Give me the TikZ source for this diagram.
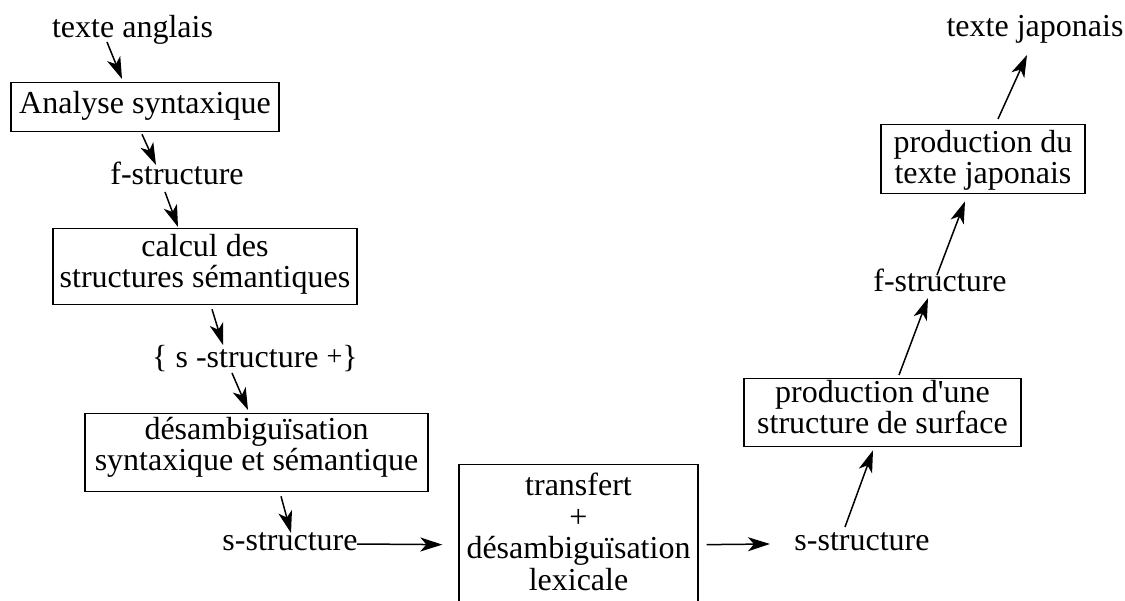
\documentclass[tikz,border=0pt]{standalone}
\usepackage{fontspec}
\setmainfont{Liberation Serif}
\usetikzlibrary{arrows.meta}
\begin{document}
\begin{tikzpicture}[x=1pt,y=-1pt,
  every node/.style={font={\fontsize{32}{31.5}\selectfont}, inner sep=0pt},
  box/.style={draw, line width=1.3pt, align=center, anchor=north},
  lbl/.style={anchor=base},
  arr/.style={line width=1.5pt, -{Stealth[length=22pt,width=14pt,inset=6pt]}}]
\clip (0,0) rectangle (1125,601);
% text labels
\node[lbl] (ta) at (132.5,38) {texte anglais};
\node[lbl] (f1) at (177,185) {f-structure};
\node[lbl] (sp) at (255,368) {\{ s -structure \raisebox{2pt}{\fontsize{28}{28}\selectfont +}\}};
\node[lbl] (s1) at (290,550) {s-structure};
\node[lbl] (s2) at (862,550) {s-structure};
\node[lbl] (f2) at (940,292) {f-structure};
\node[lbl] (tj) at (1035,37) {texte japonais};
% boxes
\node[box, minimum width=268pt, minimum height=49pt, text height=31pt, text depth=18pt] (b1) at (145,82) {Analyse syntaxique};
\node[box, minimum width=304pt, minimum height=76pt, text height=59pt, text depth=17pt] (b2) at (205,228) {calcul des\\structures sémantiques};
\node[box, minimum width=343pt, minimum height=78pt, text height=57pt, text depth=21pt] (b3) at (256.5,413) {désambiguïsation\\syntaxique et sémantique};
\node[box, minimum width=239pt, minimum height=160pt, text height=125.5pt, text depth=34.5pt] (b4) at (578.5,464) {transfert\\+\\désambiguïsation\\lexicale};
\node[box, minimum width=277pt, minimum height=68pt, text height=55pt, text depth=13pt] (b5) at (882.5,378) {production d\textquotesingle une\\structure de surface};
\node[box, minimum width=204pt, minimum height=69pt, text height=59pt, text depth=10pt] (b6) at (983,124) {production du\\texte japonais};
% arrows
\draw[arr] ([shift={(-25.5,4)}]ta.base) -- ([shift={(-23,-3)}]b1.north);
\draw[arr] ([shift={(-3,2)}]b1.south) -- ([shift={(-21,-20)}]f1.base);
\draw[arr] ([shift={(-12,7)}]f1.base) -- ([shift={(-27,-1)}]b2.north);
\draw[arr] ([shift={(7,4)}]b2.south) -- ([shift={(-32,-23)}]sp.base);
\draw[arr] ([shift={(-23,5)}]sp.base) -- ([shift={(-8.5,-3)}]b3.north);
\draw[arr] ([shift={(24.5,4)}]b3.south) -- ([shift={(1,-17)}]s1.base);
\draw[arr] ([shift={(67,-6)}]s1.base) -- ([shift={(-16,0)}]b4.west);
\draw[arr] ([shift={(8,0)}]b4.east) -- ([shift={(-92,-6)}]s2.base);
\draw[arr] ([shift={(-17,-23)}]s2.base) -- ([shift={(-9.5,3)}]b5.south);
\draw[arr] ([shift={(16.5,-3)}]b5.north) -- ([shift={(-12,6)}]f2.base);
\draw[arr] ([shift={(-3,-17)}]f2.base) -- ([shift={(-18,7)}]b6.south);
\draw[arr] ([shift={(15,-5)}]b6.north) -- ([shift={(-8,18)}]tj.base);
\end{tikzpicture}
\end{document}
